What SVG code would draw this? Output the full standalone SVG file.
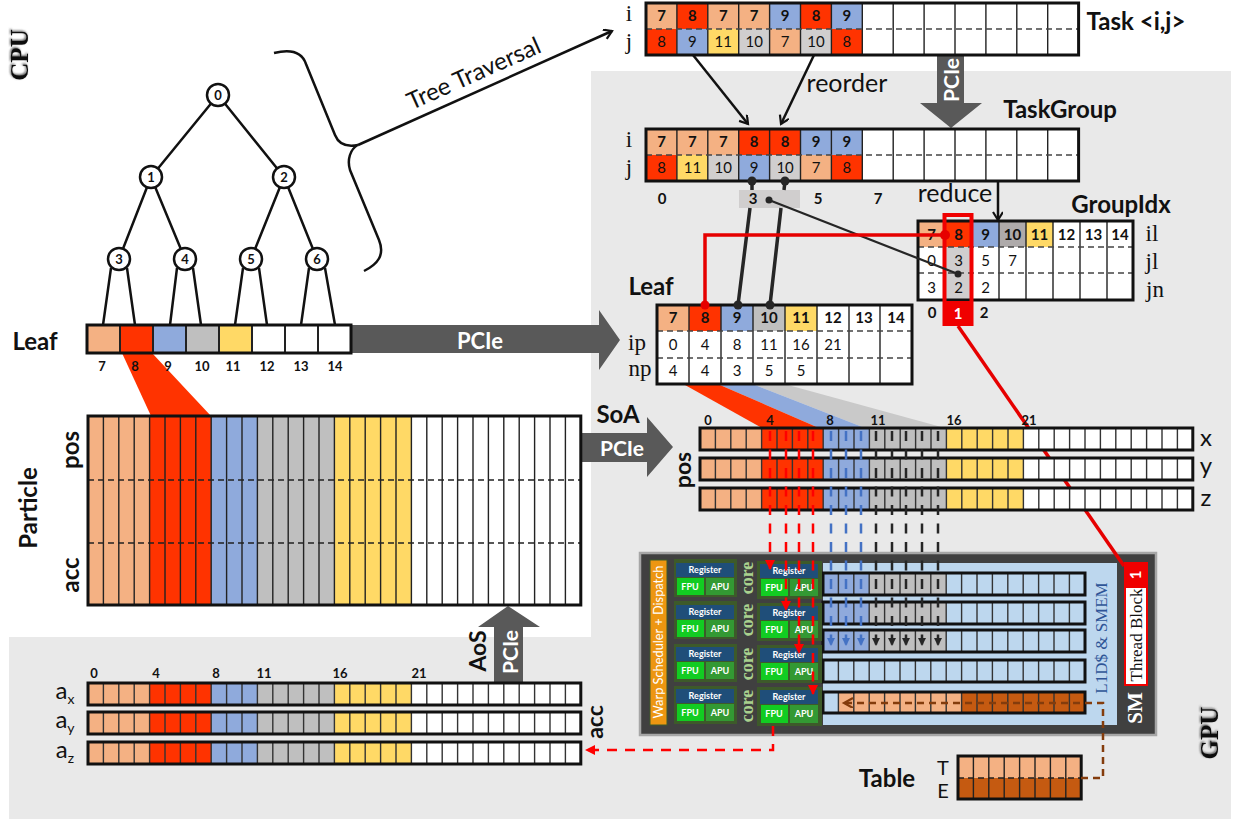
<svg xmlns="http://www.w3.org/2000/svg" width="1234" height="819" viewBox="0 0 1234 819">
<style>
text{font-family:"Lato","Liberation Sans",sans-serif;fill:#111;text-anchor:middle}
.se{font-family:"Liberation Serif","DejaVu Serif",serif}
.b{font-weight:700}
.h{font-weight:700;font-size:24px}
.n{font-weight:700;font-size:13px}
.c{font-size:15px}
.cb{font-size:15px;font-weight:700}
.lab{font-family:"Liberation Serif",serif;font-size:23px}
.w{fill:#fff}
.tan{fill:#f4b183}.red{fill:#ff3300}.blu{fill:#8faadc}.gry{fill:#bfbfbf}.lgr{fill:#d0cece}.yel{fill:#ffd966}.wht{fill:#fff}.lbl{fill:#bdd7ee}.brn{fill:#c55a11}
.box{fill:none;stroke:#111;stroke-width:3}
.grid{fill:none;stroke:#222;stroke-width:1.4}
.dash{fill:none;stroke:#444;stroke-width:1.3;stroke-dasharray:6 4}
.edge{fill:none;stroke:#111;stroke-width:2.5}
.pipe{fill:#595959}
.unit{fill:#3d5a2a}.reg{fill:#1f4e79}.fpu{fill:#12cc22}.apu{fill:#339933}
.ut{font-size:9px;font-weight:700;fill:#fff}
.core{font-family:"Liberation Serif",serif;font-size:18px;font-weight:700;fill:#a9d18e}
.dr{fill:none;stroke:#ff0000;stroke-width:2.5;stroke-dasharray:10 8.5}
.db{fill:none;stroke:#4472c4;stroke-width:2.5;stroke-dasharray:10 8.5}
.dk{fill:none;stroke:#262626;stroke-width:2.5;stroke-dasharray:10 8.5}
.nd{fill:#fff;stroke:#111;stroke-width:2.5}
</style>
<defs>
<filter id="sh" x="-30%" y="-30%" width="160%" height="160%"><feDropShadow dx="1" dy="-1" stdDeviation="1.2" flood-color="#555"/></filter>
<marker id="mO" markerWidth="12" markerHeight="12" refX="9" refY="5" orient="auto" markerUnits="userSpaceOnUse"><path d="M1 0L9 5L1 10" fill="none" stroke="#111" stroke-width="2.2"/></marker>
<marker id="mR" markerWidth="12" markerHeight="12" refX="9" refY="5" orient="auto" markerUnits="userSpaceOnUse"><path d="M0 0L10 5L0 10Z" fill="#ff0000"/></marker>
<marker id="mB" markerWidth="10" markerHeight="10" refX="7" refY="4" orient="auto" markerUnits="userSpaceOnUse"><path d="M0 0L8 4L0 8Z" fill="#4472c4"/></marker>
<marker id="mK" markerWidth="10" markerHeight="10" refX="7" refY="4" orient="auto" markerUnits="userSpaceOnUse"><path d="M0 0L8 4L0 8Z" fill="#262626"/></marker>
<marker id="mN" markerWidth="14" markerHeight="12" refX="9" refY="5" orient="auto" markerUnits="userSpaceOnUse"><path d="M1 0L10 5L1 10" fill="none" stroke="#843c0c" stroke-width="2.2"/></marker>
<g id="row32">
<rect width="61.6" height="22" class="tan"/><rect x="61.6" width="61.6" height="22" class="red"/><rect x="123.2" width="46.2" height="22" class="blu"/><rect x="169.4" width="77" height="22" class="gry"/><rect x="246.4" width="77" height="22" class="yel"/><rect x="323.4" width="169.4" height="22" class="wht"/>
<line x1="0" x2="492.8" y1="11" y2="11" stroke="#333" stroke-width="22" stroke-dasharray="1.4 14" stroke-dashoffset="0.7"/>
<rect width="492.8" height="22" class="box"/>
</g>
<g id="row17">
<rect width="262" height="22" class="lbl"/>
<line x1="0" x2="262" y1="11" y2="11" stroke="#333" stroke-width="22" stroke-dasharray="1.4 14" stroke-dashoffset="0.7"/>
<rect width="262" height="22" class="box"/>
</g>
<g id="row17c">
<rect width="262" height="22" class="lbl"/><rect width="46.2" height="22" class="blu"/><rect x="46.2" width="77" height="22" class="gry"/>
<line x1="0" x2="262" y1="11" y2="11" stroke="#333" stroke-width="22" stroke-dasharray="1.4 14" stroke-dashoffset="0.7"/>
<rect width="262" height="22" class="box"/>
</g>
</defs>

<path id="backdrop" d="M591 71H1231V819H9V637H591Z" fill="#e9e9e9"/>

<text class="se b" font-size="25" transform="translate(28 55) rotate(-90)" filter="url(#sh)">CPU</text>
<text class="se b" font-size="25" transform="translate(1218 733) rotate(-90)" filter="url(#sh)">GPU</text>

<g id="funnels">
<path d="M122 353H152L211 416H151Z" class="red"/>
<path d="M755 385H788L945 428H865Z" fill="#c9c9c9"/>
<path d="M720 385H755L865 428H819Z" class="blu"/>
<path d="M685 385H720L819 428H762Z" class="red"/>
</g>

<g id="pipes">
<path class="pipe" d="M351 325H599V310L620 340L599 370V353H351Z"/>
<text class="w" x="480" y="349" font-size="22" font-weight="700">PCIe</text>
<path class="pipe" d="M937 55H964V103H982L951 128L920 103H937Z"/>
<text class="w" font-size="21" font-weight="700" transform="translate(959 80) rotate(-90)">PCIe</text>
<path class="pipe" d="M580 433H647V417L673 447L647 477V462H580Z"/>
<text class="w" x="622" y="456" font-size="21" font-weight="700">PCIe</text>
<path class="pipe" d="M494 683V627H478L508 606L540 627H523V683Z"/>
<text class="w" font-size="21" font-weight="700" transform="translate(518 652) rotate(-90)">PCIe</text>
</g>

<g id="gpu">
<rect x="640" y="553" width="516" height="182" fill="#404040" stroke="#a6a6a6" stroke-width="2.5"/>
<rect x="823" y="563" width="294" height="162" class="lbl"/>
<rect x="650" y="560" width="17" height="165" fill="#ed9611" stroke="#3d5a2a" stroke-width="1"/>
<text class="w" font-size="12.8" transform="translate(663 642) rotate(-90)">Warp Scheduler + Dispatch</text>
<text class="se" font-size="17" style="fill:#2f5597" transform="translate(1107 638) rotate(-90)">L1D$ &amp; SMEM</text>
<text class="se b w" font-size="21" transform="translate(1142 708) rotate(-90)">SM</text>
<text class="core" transform="translate(753 578) rotate(-90)">core</text>
<text class="core" transform="translate(753 620) rotate(-90)">core</text>
<text class="core" transform="translate(753 664) rotate(-90)">core</text>
<text class="core" transform="translate(753 706) rotate(-90)">core</text>
</g>

<g id="connectors-under">
<path d="M958 326L1124 566" fill="none" stroke="#e60000" stroke-width="3.5"/>
</g>

<g id="tree-edges" class="connectors">
<path class="edge" d="M218 95L151 177M218 95L284 177M151 177L119 259M151 177L185 259M284 177L251 259M284 177L317 259M111 268L103 325M127 268L135 325M177 268L170 325M193 268L201 325M243 268L235 325M259 268L267 325M309 268L301 325M325 268L335 325"/>
<path class="edge" d="M274 53C290 49 302 52 306 64L335 135C339 145 348 147 358 145C350 149 347 160 350 170L379 240C385 255 378 264 364 271"/>
<path class="edge" d="M358 145L612 31" marker-end="url(#mO)"/>
</g>
<text font-size="24" transform="translate(477 81) rotate(-24)">Tree Traversal</text>

<g id="n0"><circle cx="218" cy="95" r="11" class="nd"/><text class="n" x="218" y="99.5">0</text></g>
<g id="n1"><circle cx="151" cy="177" r="11" class="nd"/><text class="n" x="151" y="181.5">1</text></g>
<g id="n2"><circle cx="284" cy="177" r="11" class="nd"/><text class="n" x="284" y="181.5">2</text></g>
<g id="n3"><circle cx="119" cy="259" r="11" class="nd"/><text class="n" x="119" y="263.5">3</text></g>
<g id="n4"><circle cx="185" cy="259" r="11" class="nd"/><text class="n" x="185" y="263.5">4</text></g>
<g id="n5"><circle cx="251" cy="259" r="11" class="nd"/><text class="n" x="251" y="263.5">5</text></g>
<g id="n6"><circle cx="317" cy="259" r="11" class="nd"/><text class="n" x="317" y="263.5">6</text></g>

<g id="leaf-cpu">
<text class="h" x="35" y="350">Leaf</text>
<rect x="87" y="325" width="33" height="28" class="tan"/><rect x="120" y="325" width="33" height="28" class="red"/><rect x="153" y="325" width="33" height="28" class="blu"/><rect x="186" y="325" width="33" height="28" class="gry"/><rect x="219" y="325" width="33" height="28" class="yel"/><rect x="252" y="325" width="99" height="28" class="wht"/>
<path class="grid" d="M120 325V353M153 325V353M186 325V353M219 325V353M252 325V353M285 325V353M318 325V353" style="stroke-width:2"/>
<rect x="87" y="325" width="264" height="28" class="box"/>
<text class="n" x="102" y="371">7</text><text class="n" x="135" y="371">8</text><text class="n" x="168" y="371">9</text><text class="n" x="202" y="371">10</text><text class="n" x="233" y="371">11</text><text class="n" x="267" y="371">12</text><text class="n" x="301" y="371">13</text><text class="n" x="335" y="371">14</text>
</g>

<g id="particle">
<rect x="88" y="416" width="61.6" height="189" class="tan"/><rect x="149.6" y="416" width="61.6" height="189" class="red"/><rect x="211.2" y="416" width="46.2" height="189" class="blu"/><rect x="257.4" y="416" width="77" height="189" class="gry"/><rect x="334.4" y="416" width="77" height="189" class="yel"/><rect x="411.4" y="416" width="169" height="189" class="wht"/>
<line x1="88" x2="580.8" y1="510.5" y2="510.5" stroke="#222" stroke-width="189" stroke-dasharray="1.4 14" stroke-dashoffset="0.7"/>
<path class="dash" d="M88 480H580M88 543H580" style="stroke:#222"/>
<rect x="88" y="416" width="492.8" height="189" class="box"/>
<text class="b" font-size="24" transform="translate(79 450) rotate(-90)">pos</text>
<text class="b" font-size="24" transform="translate(79 575) rotate(-90)">acc</text>
<text class="b" font-size="24" transform="translate(37 508) rotate(-90)">Particle</text>
</g>

<g id="acc">
<use href="#row32" x="88" y="683"/><use href="#row32" x="88" y="712"/><use href="#row32" x="88" y="742"/>
<text class="n" x="94" y="678">0</text><text class="n" x="156" y="678">4</text><text class="n" x="216" y="678">8</text><text class="n" x="264" y="678">11</text><text class="n" x="340" y="678">16</text><text class="n" x="419" y="678">21</text>
<text x="65" y="699" font-size="24">a<tspan font-size="14" dy="5">x</tspan></text>
<text x="65" y="728" font-size="24">a<tspan font-size="14" dy="5">y</tspan></text>
<text x="65" y="758" font-size="24">a<tspan font-size="14" dy="5">z</tspan></text>
<text class="b" font-size="23" transform="translate(486 651) rotate(-90)">AoS</text>
<text class="b" font-size="23" transform="translate(603 722) rotate(-90)">acc</text>
</g>

<g id="task">
<text class="lab" x="629" y="21">i</text><text class="lab" x="629" y="49">j</text>
<text class="h" x="1136" y="30">Task &lt;i,j&gt;</text>
<rect x="646" y="3" width="432.6" height="52" class="wht"/>
<rect x="646" y="3" width="30.9" height="26" class="tan"/><rect x="676.9" y="3" width="30.9" height="26" class="red"/><rect x="707.8" y="3" width="61.8" height="26" class="tan"/><rect x="769.6" y="3" width="30.9" height="26" class="blu"/><rect x="800.5" y="3" width="30.9" height="26" class="red"/><rect x="831.4" y="3" width="30.9" height="26" class="blu"/>
<rect x="646" y="29" width="30.9" height="26" class="red"/><rect x="676.9" y="29" width="30.9" height="26" class="blu"/><rect x="707.8" y="29" width="30.9" height="26" class="yel"/><rect x="738.7" y="29" width="30.9" height="26" class="lgr"/><rect x="769.6" y="29" width="30.9" height="26" class="tan"/><rect x="800.5" y="29" width="30.9" height="26" class="lgr"/><rect x="831.4" y="29" width="30.9" height="26" class="red"/>
<path class="grid" d="M676.9 3V55M707.8 3V55M738.7 3V55M769.6 3V55M800.5 3V55M831.4 3V55M862.3 3V55M893.2 3V55M924.1 3V55M955 3V55M985.9 3V55M1016.8 3V55M1047.7 3V55"/>
<path class="dash" d="M646 29H1078"/>
<rect x="646" y="3" width="432.6" height="52" class="box"/>
<text class="cb" x="661.5" y="21">7</text><text class="cb" x="692.4" y="21">8</text><text class="cb" x="723.3" y="21">7</text><text class="cb" x="754.2" y="21">7</text><text class="cb" x="785.1" y="21">9</text><text class="cb" x="816" y="21">8</text><text class="cb" x="846.9" y="21">9</text>
<text class="c" x="661.5" y="47">8</text><text class="c" x="692.4" y="47">9</text><text class="c" x="723.3" y="47">11</text><text class="c" x="754.2" y="47">10</text><text class="c" x="785.1" y="47">7</text><text class="c" x="816" y="47">10</text><text class="c" x="846.9" y="47">8</text>
</g>

<g id="taskgroup">
<text class="lab" x="629" y="147">i</text><text class="lab" x="629" y="175">j</text>
<text class="h" x="1060" y="118">TaskGroup</text>
<rect x="646" y="129" width="432.6" height="52" class="wht"/>
<rect x="646" y="129" width="92.7" height="26" class="tan"/><rect x="738.7" y="129" width="61.8" height="26" class="red"/><rect x="800.5" y="129" width="61.8" height="26" class="blu"/>
<rect x="646" y="155" width="30.9" height="26" class="red"/><rect x="676.9" y="155" width="30.9" height="26" class="yel"/><rect x="707.8" y="155" width="30.9" height="26" class="lgr"/><rect x="738.7" y="155" width="30.9" height="26" class="blu"/><rect x="769.6" y="155" width="30.9" height="26" class="lgr"/><rect x="800.5" y="155" width="30.9" height="26" class="tan"/><rect x="831.4" y="155" width="30.9" height="26" class="red"/>
<path class="grid" d="M676.9 129V181M707.8 129V181M738.7 129V181M769.6 129V181M800.5 129V181M831.4 129V181M862.3 129V181M893.2 129V181M924.1 129V181M955 129V181M985.9 129V181M1016.8 129V181M1047.7 129V181"/>
<path class="dash" d="M646 155H1078"/>
<rect x="646" y="129" width="432.6" height="52" class="box"/>
<text class="cb" x="661.5" y="147">7</text><text class="cb" x="692.4" y="147">7</text><text class="cb" x="723.3" y="147">7</text><text class="cb" x="754.2" y="147">8</text><text class="cb" x="785.1" y="147">8</text><text class="cb" x="816" y="147">9</text><text class="cb" x="846.9" y="147">9</text>
<text class="c" x="661.5" y="173">8</text><text class="c" x="692.4" y="173">11</text><text class="c" x="723.3" y="173">10</text><text class="c" x="754.2" y="173">9</text><text class="c" x="785.1" y="173">10</text><text class="c" x="816" y="173">7</text><text class="c" x="846.9" y="173">8</text>
<rect x="739" y="190" width="61" height="18" class="lgr"/>
<text class="cb" x="662" y="204">0</text><text class="cb" x="753" y="204">3</text><text class="cb" x="818" y="204">5</text><text class="cb" x="878" y="204">7</text>
<text font-size="25" x="955" y="202">reduce</text>
<text font-size="25" x="847" y="92">reorder</text>
</g>

<g id="groupidx">
<text class="h" x="1121" y="213">GroupIdx</text>
<text class="lab" x="1152" y="241">il</text><text class="lab" x="1152" y="269">jl</text><text class="lab" x="1155" y="297">jn</text>
<rect x="918" y="221" width="215" height="79" class="wht"/>
<rect x="918" y="221" width="27" height="26" class="tan"/><rect x="945" y="221" width="27" height="26" class="red"/><rect x="972" y="221" width="27" height="26" class="blu"/><rect x="999" y="221" width="27" height="26" fill="#aeaaaa"/><rect x="1026" y="221" width="27" height="26" class="yel"/>
<rect x="945" y="247" width="27" height="53" class="lgr"/>
<path class="grid" d="M945 221V300M972 221V300M999 221V300M1026 221V300M1053 221V300M1080 221V300M1107 221V300"/>
<path class="dash" d="M918 247H1133M918 273H1133"/>
<rect x="918" y="221" width="215" height="79" class="box"/>
<text class="cb" x="931.5" y="240">7</text><text class="cb" x="958.5" y="240">8</text><text class="cb" x="985.5" y="240">9</text><text class="cb" x="1012.5" y="240">10</text><text class="cb" x="1039.5" y="240">11</text><text class="cb" x="1066.5" y="240">12</text><text class="cb" x="1093.5" y="240">13</text><text class="cb" x="1120" y="240">14</text>
<text class="c" x="931.5" y="266">0</text><text class="c" x="958.5" y="266">3</text><text class="c" x="985.5" y="266">5</text><text class="c" x="1012.5" y="266">7</text>
<text class="c" x="931.5" y="293">3</text><text class="c" x="958.5" y="293">2</text><text class="c" x="985.5" y="293">2</text>
<rect x="944.5" y="215" width="27" height="109" fill="none" stroke="#f00000" stroke-width="4"/>
<rect x="943" y="301" width="30" height="25" fill="#f00000"/>
<text class="cb" x="932" y="318">0</text><text class="cb w" x="958" y="319">1</text><text class="cb" x="984" y="318">2</text>
</g>

<g id="leaf-gpu">
<text class="h" x="651" y="295">Leaf</text>
<text class="lab" x="637" y="350">ip</text><text class="lab" x="640" y="376">np</text>
<rect x="657" y="305" width="255" height="79" class="wht"/>
<rect x="657" y="305" width="32" height="26" class="tan"/><rect x="689" y="305" width="32" height="26" class="red"/><rect x="721" y="305" width="32" height="26" class="blu"/><rect x="753" y="305" width="32" height="26" class="gry"/><rect x="785" y="305" width="32" height="26" class="yel"/>
<path class="grid" d="M689 305V384M721 305V384M753 305V384M785 305V384M817 305V384M849 305V384M880 305V384"/>
<path class="dash" d="M657 331H912M657 358H912"/>
<rect x="657" y="305" width="255" height="79" class="box"/>
<text class="cb" x="673" y="323">7</text><text class="cb" x="705" y="323">8</text><text class="cb" x="737" y="323">9</text><text class="cb" x="769" y="323">10</text><text class="cb" x="801" y="323">11</text><text class="cb" x="833" y="323">12</text><text class="cb" x="864" y="323">13</text><text class="cb" x="896" y="323">14</text>
<text class="c" x="673" y="350">0</text><text class="c" x="705" y="350">4</text><text class="c" x="737" y="350">8</text><text class="c" x="769" y="350">11</text><text class="c" x="801" y="350">16</text><text class="c" x="833" y="350">21</text>
<text class="c" x="673" y="376">4</text><text class="c" x="705" y="376">4</text><text class="c" x="737" y="376">3</text><text class="c" x="769" y="376">5</text><text class="c" x="801" y="376">5</text>
</g>

<g id="soa">
<use href="#row32" x="700" y="428"/><use href="#row32" x="700" y="458"/><use href="#row32" x="700" y="488"/>
<text class="n" x="708" y="425">0</text><text class="n" x="770" y="425">4</text><text class="n" x="830" y="425">8</text><text class="n" x="878" y="425">11</text><text class="n" x="954" y="425">16</text><text class="n" x="1029" y="425">21</text>
<text font-size="24" x="1206" y="446">x</text><text font-size="24" x="1206" y="474">y</text><text font-size="24" x="1206" y="506">z</text>
<text class="b" font-size="23" transform="translate(691 470) rotate(-90)">pos</text>
<text class="b" font-size="24" x="618" y="423">SoA</text>
</g>

<g id="l1-rows">
<use href="#row17c" x="823" y="573"/><use href="#row17c" x="823" y="602"/><use href="#row17c" x="823" y="630"/><use href="#row17" x="823" y="660"/>
<g>
<rect x="823" y="692" width="262" height="21" class="lbl"/><rect x="838.4" y="692" width="123.2" height="21" class="tan"/><rect x="961.6" y="692" width="123.4" height="21" class="brn"/>
<line x1="823" x2="1085" y1="702.5" y2="702.5" stroke="#333" stroke-width="21" stroke-dasharray="1.4 14" stroke-dashoffset="0.7"/>
<rect x="823" y="692" width="262" height="21" class="box"/>
</g>
</g>

<g id="core-left-1"><rect x="674" y="559" width="63" height="38" class="unit"/><rect x="676" y="563" width="58" height="14" class="reg"/><rect x="677" y="578" width="27" height="17" class="fpu"/><rect x="706" y="578" width="28" height="17" class="apu"/><text class="ut" x="705" y="573">Register</text><text class="ut" x="690" y="590">FPU</text><text class="ut" x="720" y="590">APU</text></g>
<g id="core-left-2"><rect x="674" y="601" width="63" height="38" class="unit"/><rect x="676" y="605" width="58" height="14" class="reg"/><rect x="677" y="620" width="27" height="17" class="fpu"/><rect x="706" y="620" width="28" height="17" class="apu"/><text class="ut" x="705" y="615">Register</text><text class="ut" x="690" y="632">FPU</text><text class="ut" x="720" y="632">APU</text></g>
<g id="core-left-3"><rect x="674" y="644" width="63" height="38" class="unit"/><rect x="676" y="647" width="58" height="14" class="reg"/><rect x="677" y="662" width="27" height="17" class="fpu"/><rect x="706" y="662" width="28" height="17" class="apu"/><text class="ut" x="705" y="657">Register</text><text class="ut" x="690" y="674">FPU</text><text class="ut" x="720" y="674">APU</text></g>
<g id="core-left-4"><rect x="674" y="686" width="63" height="38" class="unit"/><rect x="676" y="689" width="58" height="14" class="reg"/><rect x="677" y="704" width="27" height="17" class="fpu"/><rect x="706" y="704" width="28" height="17" class="apu"/><text class="ut" x="705" y="699">Register</text><text class="ut" x="690" y="716">FPU</text><text class="ut" x="720" y="716">APU</text></g>
<g id="core-right-1"><rect x="757" y="561" width="65" height="38" class="unit"/><rect x="760" y="564" width="58" height="14" class="reg"/><rect x="761" y="579" width="27" height="17" class="fpu"/><rect x="790" y="579" width="28" height="17" class="apu"/><text class="ut" x="789" y="574">Register</text><text class="ut" x="774" y="591">FPU</text><text class="ut" x="804" y="591">APU</text></g>
<g id="core-right-2"><rect x="757" y="603" width="65" height="38" class="unit"/><rect x="760" y="606" width="58" height="14" class="reg"/><rect x="761" y="621" width="27" height="17" class="fpu"/><rect x="790" y="621" width="28" height="17" class="apu"/><text class="ut" x="789" y="616">Register</text><text class="ut" x="774" y="633">FPU</text><text class="ut" x="804" y="633">APU</text></g>
<g id="core-right-3"><rect x="757" y="645" width="65" height="38" class="unit"/><rect x="760" y="648" width="58" height="14" class="reg"/><rect x="761" y="663" width="27" height="17" class="fpu"/><rect x="790" y="663" width="28" height="17" class="apu"/><text class="ut" x="789" y="658">Register</text><text class="ut" x="774" y="675">FPU</text><text class="ut" x="804" y="675">APU</text></g>
<g id="core-right-4"><rect x="757" y="687" width="65" height="39" class="unit"/><rect x="760" y="690" width="58" height="14" class="reg"/><rect x="761" y="705" width="27" height="18" class="fpu"/><rect x="790" y="705" width="28" height="18" class="apu"/><text class="ut" x="789" y="700">Register</text><text class="ut" x="774" y="717">FPU</text><text class="ut" x="804" y="717">APU</text></g>

<g id="thread-block">
<rect x="1124" y="562" width="24" height="124" fill="#f00000"/>
<rect x="1126" y="588" width="20" height="96" fill="#fff"/>
<text class="se" font-size="17" transform="translate(1142 635) rotate(-90)">Thread Block</text>
<text class="cb w" font-size="13" transform="translate(1141 575) rotate(-90)">1</text>
</g>

<g id="table">
<text class="h" x="887" y="787">Table</text>
<text font-size="20" x="943" y="775">T</text><text font-size="20" x="943" y="798">E</text>
<rect x="958" y="756" width="123.2" height="22" class="tan"/><rect x="958" y="778" width="123.2" height="21" class="brn"/>
<line x1="958" x2="1081.2" y1="777.5" y2="777.5" stroke="#222" stroke-width="43" stroke-dasharray="1.4 14" stroke-dashoffset="0.7"/>
<path class="dash" d="M958 778H1081" style="stroke:#222"/>
<rect x="958" y="756" width="123.2" height="43" class="box"/>
</g>

<g id="connectors">
<path d="M693 55L748 124" class="edge" marker-end="url(#mO)"/>
<path d="M814 55L781 124" class="edge" marker-end="url(#mO)"/>
<path d="M998 181V220" class="edge" marker-end="url(#mO)"/>
<g stroke="#262626" stroke-width="3.5" fill="none"><path d="M752 181V190M750 208L738 305M785 181L784 190M781 208L770 305"/></g>
<path d="M769 200L958 274" stroke="#262626" stroke-width="2.2" fill="none"/>
<g fill="#262626"><circle cx="752" cy="181" r="4.5"/><circle cx="785" cy="181" r="4.5"/><circle cx="738" cy="305" r="4.5"/><circle cx="770" cy="305" r="4.5"/><circle cx="769" cy="200" r="3.5"/><circle cx="958" cy="274" r="3.5"/></g>
<path d="M705 305V235H948" fill="none" stroke="#e60000" stroke-width="3.5"/>
<circle cx="705" cy="305" r="4.5" fill="#e60000"/><circle cx="945" cy="235" r="5" fill="#e60000"/>
<path d="M770 431V569" class="dr" marker-end="url(#mR)"/>
<path d="M786 431V610" class="dr" marker-end="url(#mR)"/>
<path d="M799 431V653" class="dr" marker-end="url(#mR)"/>
<path d="M813 431V694" class="dr" marker-end="url(#mR)"/>
<path d="M831 431V645" class="db" marker-end="url(#mB)"/>
<path d="M846 431V645" class="db" marker-end="url(#mB)"/>
<path d="M861 431V645" class="db" marker-end="url(#mB)"/>
<path d="M876 431V645" class="dk" marker-end="url(#mK)"/>
<path d="M892 431V645" class="dk" marker-end="url(#mK)"/>
<path d="M906 431V645" class="dk" marker-end="url(#mK)"/>
<path d="M922 431V645" class="dk" marker-end="url(#mK)"/>
<path d="M938 431V645" class="dk" marker-end="url(#mK)"/>
<path d="M773 726V750H586" fill="none" stroke="#ff0000" stroke-width="2.5" stroke-dasharray="10 8" marker-end="url(#mR)"/>
<path d="M1081 778H1103V703H845" fill="none" stroke="#843c0c" stroke-width="2.5" stroke-dasharray="7 5" marker-end="url(#mN)"/>
</g>
</svg>
